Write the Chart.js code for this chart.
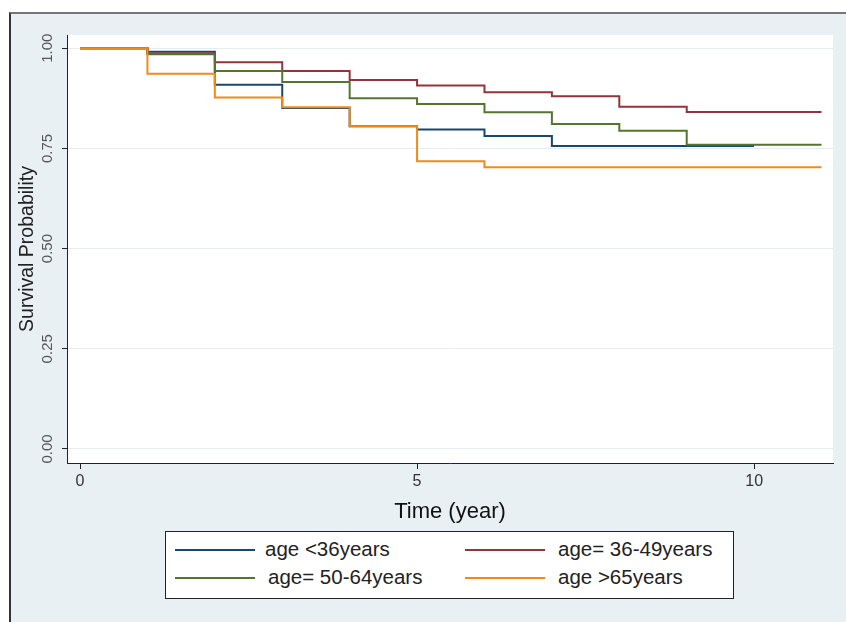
<!DOCTYPE html>
<html>
<head>
<meta charset="utf-8">
<script src="https://cdn.jsdelivr.net/npm/chart.js@4"></script>
<style>
  html, body { margin: 0; padding: 0; background: #fff; }
  #wrap { position: relative; width: 846px; height: 622px; overflow: hidden; }
  #frame {
    position: absolute; left: 9px; top: 12px; right: 0; bottom: 0;
    background: #e9f0f3; border-left: 2px solid #333; border-top: 2px solid #777;
  }
  #c { position: absolute; left: 0; top: 0; }
  .legend {
    position: absolute; left: 165px; top: 531px; width: 569px; height: 68px;
    background: #fff; border: 1px solid #222; box-sizing: border-box;
    font-family: "Liberation Sans", Arial, sans-serif; font-size: 20.5px; color: #222;
  }
  .item { position: absolute; height: 20px; line-height: 20px; }
  .item i { position: absolute; left: 0; top: 9px; width: 80px; height: 2px; }
  .item span { position: absolute; white-space: nowrap; top: -1px; }
</style>
</head>
<body>
<div id="wrap">
  <div id="frame"></div>
  <canvas id="c" width="846" height="622"></canvas>
  <div class="legend" id="legend"></div>
</div>
<script>
// Kaplan-Meier estimates (time in years)
const times = [0, 1, 2, 3, 4, 5, 6, 7, 8, 9, 10, 11];
const ageUnder36 = [1, 0.991, 0.909, 0.851, 0.805, 0.797, 0.781, 0.756, 0.756, 0.756, 0.756, null];
const age36to49 = [1, 0.987, 0.965, 0.943, 0.921, 0.907, 0.890, 0.880, 0.854, 0.841, 0.841, 0.841];
const age50to64 = [1, 0.985, 0.943, 0.916, 0.875, 0.861, 0.840, 0.811, 0.794, 0.759, 0.759, 0.759];
const ageOver65 = [1, 0.936, 0.877, 0.853, 0.805, 0.718, 0.703, 0.703, 0.703, 0.703, 0.703, 0.703];

const seriesLabels = ['age <36years', 'age= 36-49years', 'age= 50-64years', 'age >65years'];
const seriesColors = ['#1a476f', '#90353b', '#55752f', '#ee8c16'];

const xTicks = [0, 5, 10];
const yTicks = [0, 0.25, 0.5, 0.75, 1];

const toPoints = vals => times.map((t, i) => ({ x: t, y: vals[i] }));
const allSeries = [ageUnder36, age36to49, age50to64, ageOver65];

// survival drops at each time point -> step happens at the new x
const datasets = allSeries.map((vals, i) => ({
    label: seriesLabels[i],
    data: toPoints(vals),
    borderColor: seriesColors[i],
    borderWidth: 2,
    pointRadius: 0,
    stepped: 'before',
    fill: false,
    spanGaps: false,
    order: 3 - i,
}));

// white plot region
const plotBg = {
    id: 'plotBg',
    beforeDraw(chart) {
        const { ctx, chartArea: a } = chart;
        ctx.save();
        ctx.fillStyle = '#ffffff';
        ctx.fillRect(a.left, a.top, a.right - a.left, a.bottom - a.top);
        ctx.restore();
    }
};

const font = 'Liberation Sans, Arial, sans-serif';

new Chart(document.getElementById('c'), {
    type: 'line',
    data: { datasets },
    plugins: [plotBg],
    options: {
        responsive: false,
        animation: false,
        layout: { padding: { left: 11, top: 35, right: 13, bottom: 96 } },
        plugins: { legend: { display: false }, tooltip: { enabled: false } },
        scales: {
            x: {
                type: 'linear',
                min: -0.193,
                max: 11.17,
                afterBuildTicks: s => { s.ticks = xTicks.map(v => ({ value: v })); },
                afterFit: s => { s.height = 63; },
                border: { color: '#222', width: 1 },
                grid: { drawOnChartArea: false, tickLength: 6, tickColor: '#222' },
                ticks: { color: '#333', font: { family: font, size: 16 }, padding: 3, maxRotation: 0 },
                title: { display: true, text: 'Time (year)', color: '#111', font: { family: font, size: 22 }, padding: { top: 0, bottom: 1 } },
            },
            y: {
                min: -0.035,
                max: 1.033,
                afterBuildTicks: s => { s.ticks = yTicks.map(v => ({ value: v })); },
                afterFit: s => { s.width = 56; },
                border: { color: '#222', width: 1 },
                grid: { color: '#e6ebee', lineWidth: 1, tickLength: 5, tickColor: '#222' },
                ticks: {
                    color: '#555', font: { family: font, size: 15 },
                    minRotation: 90, maxRotation: 90, crossAlign: 'center', padding: 0,
                    callback: v => v.toFixed(2),
                },
                title: { display: true, text: 'Survival Probability', color: '#222', font: { family: font, size: 19.5 }, padding: { top: 5, bottom: 0 } },
            }
        }
    }
});

// Legend box (two columns, as in the figure)
const legendPos = [[9, 8], [299, 8], [9, 36], [299, 36]];
const textOffset = [90, 93, 93, 93];
const legend = document.getElementById('legend');
seriesLabels.forEach((lab, i) => {
    const it = document.createElement('div');
    it.className = 'item';
    it.style.left = legendPos[i][0] + 'px';
    it.style.top = legendPos[i][1] + 'px';
    it.innerHTML = `<i style="background:${seriesColors[i]}"></i><span style="left:${textOffset[i]}px">${lab.replace('<', '&lt;')}</span>`;
    legend.appendChild(it);
});
</script>
</body>
</html>
